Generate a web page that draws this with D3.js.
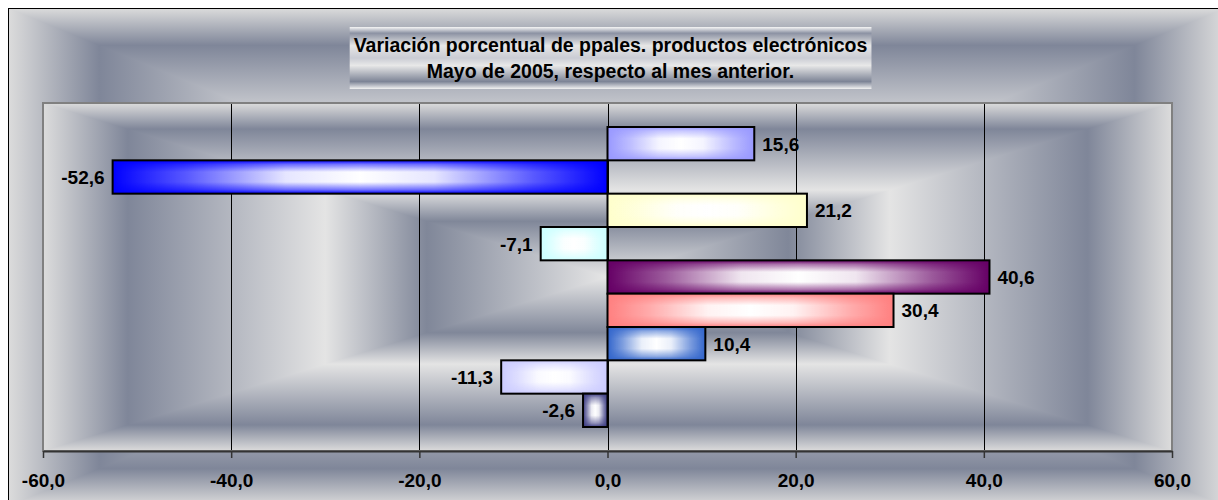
<!DOCTYPE html>
<html>
<head>
<meta charset="utf-8">
<script src="https://cdn.jsdelivr.net/npm/d3@7"></script>
<style>
  body { margin: 0; background: #fff; }
  svg { display: block; font-family: Arial, 'Liberation Sans', sans-serif; }
</style>
</head>
<body>
<svg width="1218" height="500"></svg>
<script>
'use strict'

// data
const products = ['Producto 1', 'Producto 2', 'Producto 3', 'Producto 4', 'Producto 5',
    'Producto 6', 'Producto 7', 'Producto 8', 'Producto 9']
const values = [15.6, -52.6, 21.2, -7.1, 40.6, 30.4, 10.4, -11.3, -2.6]
const barColors = ['#9999FF', '#0000FF', '#FFFFCC', '#CCFFFF', '#660066',
    '#FF8080', '#3366CC', '#CCCCFF', '#3F3F85']
const tickValues = [-60, -40, -20, 0, 20, 40, 60]
const titleLines = ['Variación porcentual de ppales. productos electrónicos',
    'Mayo de 2005, respecto al mes anterior.']

const width = 1218
const height = 500
const chartBox = { x: 8, y: 8, w: 1218, h: 498 }
const plot = { left: 43, top: 103, right: 1172, bottom: 451 }

const svg = d3.select('svg').attr('width', width).attr('height', height)
const defs = svg.append('defs')

const es = d3.formatLocale({ decimal: ',', thousands: '.', grouping: [3], currency: ['', ''], minus: '-' })
const fmt = es.format('.1f')

// silver "from center" fill, stops go from edge (0) to center (1)
const silver = [
    { t: 0, c: '#DCDCDC' },
    { t: 0.15, c: '#7F8699' },
    { t: 0.5, c: '#E4E4E4' },
    { t: 0.68, c: '#808799' },
    { t: 1, c: '#E6E6E6' }
]

function rectGradient(parent, id, b, stops) {
    const cx = b.x + b.w / 2
    const cy = b.y + b.h / 2
    const mirrored = stops.map(s => ({ o: s.t / 2, c: s.c }))
        .concat(stops.slice().reverse().map(s => ({ o: 1 - s.t / 2, c: s.c })))

    const vg = defs.append('linearGradient').attr('id', id + '-v')
        .attr('gradientUnits', 'userSpaceOnUse')
        .attr('x1', 0).attr('y1', b.y).attr('x2', 0).attr('y2', b.y + b.h)
    const hg = defs.append('linearGradient').attr('id', id + '-h')
        .attr('gradientUnits', 'userSpaceOnUse')
        .attr('x1', b.x).attr('y1', 0).attr('x2', b.x + b.w).attr('y2', 0)
    ;[vg, hg].forEach(g => g.selectAll('stop').data(mirrored).enter().append('stop')
        .attr('offset', d => d.o).attr('stop-color', d => d.c))

    parent.append('rect')
        .attr('x', b.x).attr('y', b.y).attr('width', b.w).attr('height', b.h)
        .attr('fill', `url(#${id}-v)`)
    const tri = [
        [[b.x, b.y], [cx, cy], [b.x, b.y + b.h]],
        [[b.x + b.w, b.y], [cx, cy], [b.x + b.w, b.y + b.h]]
    ]
    parent.selectAll(null).data(tri).enter().append('path')
        .attr('d', d => 'M' + d.join('L') + 'Z')
        .attr('fill', `url(#${id}-h)`)
}

// chart area
rectGradient(svg, 'chartbg', chartBox, silver)
svg.append('rect')
    .attr('x', chartBox.x + 0.5).attr('y', chartBox.y + 0.5)
    .attr('width', chartBox.w).attr('height', chartBox.h)
    .attr('fill', 'none').attr('stroke', '#000')

// title box
const titleGrad = defs.append('linearGradient').attr('id', 'titlebg')
    .attr('x1', 0).attr('y1', 0).attr('x2', 0).attr('y2', 1)
titleGrad.selectAll('stop')
    .data([[0, '#F6F6F6'], [0.1, '#8C92A3'], [0.3, '#E6E6E6'], [0.5, '#CACCD4'],
        [0.62, '#E8E8E8'], [0.88, '#7D8496'], [1, '#F2F2F2']])
    .enter().append('stop')
    .attr('offset', d => d[0]).attr('stop-color', d => d[1])

const title = svg.append('g')
const cxPlot = (plot.left + plot.right) / 2
title.selectAll('text').data(titleLines).enter().append('text')
    .attr('x', cxPlot + 3)
    .attr('y', (d, i) => 52 + i * 25.5)
    .attr('text-anchor', 'middle')
    .attr('font-size', 19.5)
    .attr('font-weight', 'bold')
    .attr('fill', '#000')
    .text(d => d)
const tb = title.node().getBBox()
title.insert('rect', 'text')
    .attr('x', tb.x - 4).attr('y', 27)
    .attr('width', tb.width + 8).attr('height', 62)
    .attr('fill', 'url(#titlebg)')

// plot area
rectGradient(svg, 'plotbg',
    { x: plot.left, y: plot.top, w: plot.right - plot.left, h: plot.bottom - plot.top }, silver)

const x = d3.scaleLinear().domain([-60, 60]).range([plot.left, plot.right])
const y = d3.scaleBand().domain(products).range([plot.top, plot.bottom])
    .paddingInner(0).paddingOuter(0.72)

svg.append('g').attr('class', 'grid')
    .selectAll('line')
    .data(tickValues.filter(t => t > -60 && t < 60))
    .enter().append('line')
    .attr('x1', d => Math.round(x(d)) + 0.5).attr('x2', d => Math.round(x(d)) + 0.5)
    .attr('y1', plot.top).attr('y2', plot.bottom)
    .attr('stroke', '#000').attr('stroke-width', 1)

// bar shading: white glow toward the middle
const hWhite = defs.append('linearGradient').attr('id', 'hWhite')
    .attr('x1', 0).attr('y1', 0).attr('x2', 1).attr('y2', 0)
hWhite.selectAll('stop')
    .data([[0, 0], [0.15, 0.35], [0.35, 0.9], [0.5, 1], [0.65, 0.9], [0.85, 0.35], [1, 0]])
    .enter().append('stop')
    .attr('offset', d => d[0]).attr('stop-color', '#fff').attr('stop-opacity', d => d[1])
const vGrad = defs.append('linearGradient').attr('id', 'vGrad')
    .attr('x1', 0).attr('y1', 0).attr('x2', 0).attr('y2', 1)
vGrad.selectAll('stop')
    .data([[0, '#000'], [0.12, '#777'], [0.35, '#fff'], [0.65, '#fff'], [0.88, '#777'], [1, '#000']])
    .enter().append('stop')
    .attr('offset', d => d[0]).attr('stop-color', d => d[1])
defs.append('mask').attr('id', 'vMask')
    .attr('maskContentUnits', 'objectBoundingBox')
    .append('rect').attr('x', 0).attr('y', 0).attr('width', 1).attr('height', 1)
    .attr('fill', 'url(#vGrad)')

const rows = products.map((p, i) => ({ name: p, value: values[i], color: barColors[i] }))
const bar = svg.append('g').attr('class', 'bars')
    .selectAll('g').data(rows).enter().append('g')
const bx = d => x(Math.min(0, d.value))
const bw = d => Math.abs(x(d.value) - x(0))

bar.append('rect')
    .attr('x', bx).attr('y', d => y(d.name))
    .attr('width', bw).attr('height', y.bandwidth())
    .attr('fill', d => d.color)
bar.append('rect')
    .attr('x', bx).attr('y', d => y(d.name))
    .attr('width', bw).attr('height', y.bandwidth())
    .attr('fill', 'url(#hWhite)').attr('mask', 'url(#vMask)')
bar.append('rect')
    .attr('x', bx).attr('y', d => y(d.name))
    .attr('width', bw).attr('height', y.bandwidth())
    .attr('fill', 'none').attr('stroke', '#000').attr('stroke-width', 2)

// plot border
svg.append('rect')
    .attr('x', plot.left).attr('y', plot.top)
    .attr('width', plot.right - plot.left).attr('height', plot.bottom - plot.top)
    .attr('fill', 'none').attr('stroke', '#808080').attr('stroke-width', 2)

// axis
const axis = svg.append('g')
    .attr('transform', `translate(0,${plot.bottom})`)
    .call(d3.axisBottom(x).tickValues(tickValues).tickFormat(fmt)
        .tickSize(7).tickSizeOuter(0).tickPadding(16))
axis.select('.domain').attr('stroke', '#333').attr('stroke-width', 2)
axis.selectAll('.tick line').attr('stroke', '#333').attr('stroke-width', 1.5)
axis.selectAll('.tick text')
    .attr('font-family', 'Arial, "Liberation Sans", sans-serif')
    .attr('font-size', 19).attr('font-weight', 'bold').attr('fill', '#000')

// data labels
svg.append('g').attr('class', 'labels')
    .selectAll('text').data(rows).enter().append('text')
    .attr('x', d => d.value >= 0 ? x(d.value) + 8 : x(d.value) - 8)
    .attr('y', d => y(d.name) + y.bandwidth() / 2)
    .attr('dy', '0.36em')
    .attr('text-anchor', d => d.value >= 0 ? 'start' : 'end')
    .attr('font-size', 19).attr('font-weight', 'bold').attr('fill', '#000')
    .text(d => fmt(d.value))
</script>
</body>
</html>
